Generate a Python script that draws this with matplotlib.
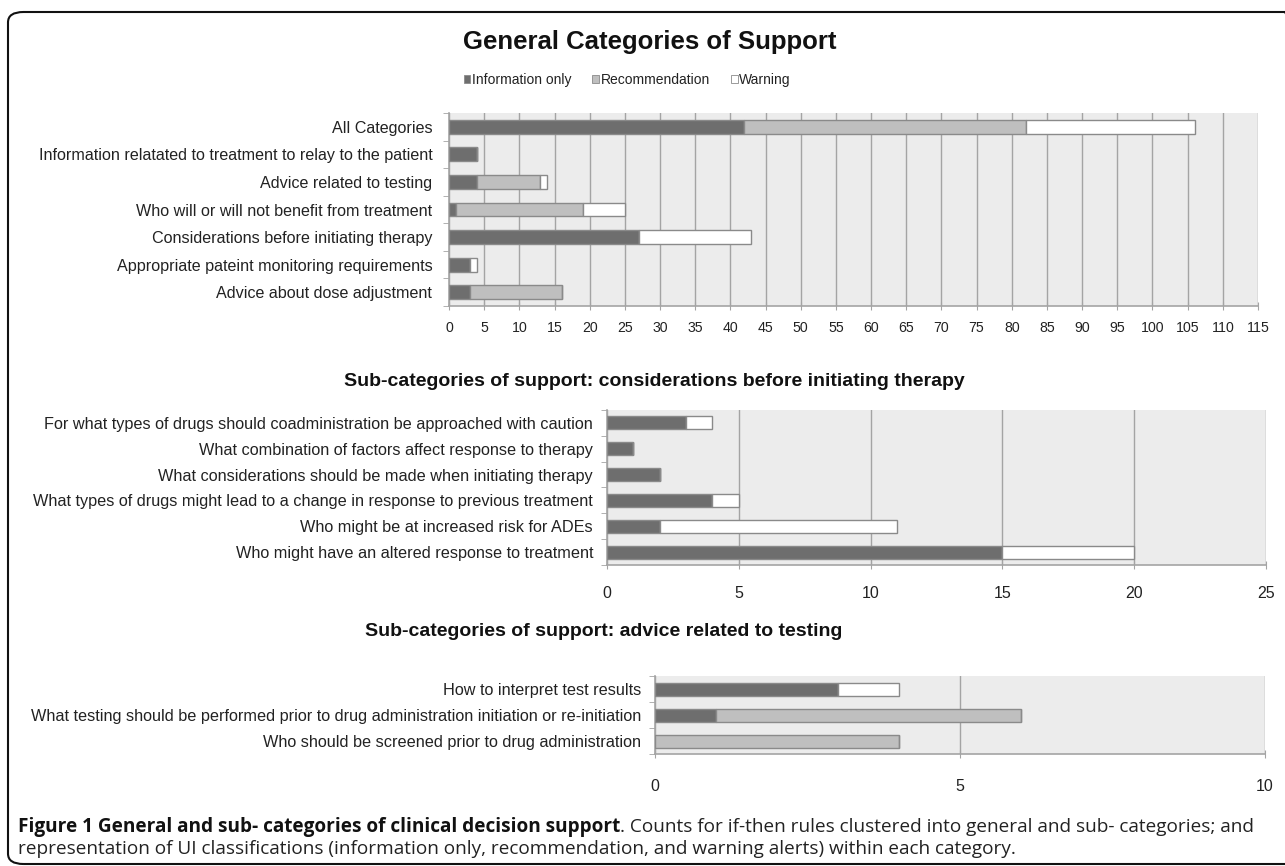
import matplotlib
matplotlib.use("Agg")
import matplotlib.pyplot as plt
from matplotlib.patches import Patch, FancyBboxPatch
import numpy as np

# ---------------- data ----------------
gen_categories = [
    "All Categories",
    "Information relatated to treatment to relay to the patient",
    "Advice related to testing",
    "Who will or will not benefit from treatment",
    "Considerations before initiating therapy",
    "Appropriate pateint monitoring requirements",
    "Advice about dose adjustment",
]
gen_info = [42, 4, 4, 1, 27, 3, 3]
gen_rec = [40, 0, 9, 18, 0, 0, 13]
gen_warn = [24, 0, 1, 6, 16, 1, 0]
gen_ticks = list(range(0, 116, 5))

cons_categories = [
    "For what types of drugs should coadministration be approached with caution",
    "What combination of factors affect response to therapy",
    "What considerations should be made when initiating therapy",
    "What types of drugs might lead to a change in response to previous treatment",
    "Who might be at increased risk for ADEs",
    "Who might have an altered response to treatment",
]
cons_info = [3, 1, 2, 4, 2, 15]
cons_rec = [0, 0, 0, 0, 0, 0]
cons_warn = [1, 0, 0, 1, 9, 5]
cons_ticks = [0, 5, 10, 15, 20, 25]

test_categories = [
    "How to interpret test results",
    "What testing should be performed prior to drug administration initiation or re-initiation",
    "Who should be screened prior to drug administration",
]
test_info = [3, 1, 0]
test_rec = [0, 5, 4]
test_warn = [1, 0, 0]
test_ticks = [0, 5, 10]

series_names = ["Information only", "Recommendation", "Warning"]

# ---------------- style ----------------
W, H = 1285, 866
DPI = 100
C_INFO = "#6e6e6e"
C_REC = "#bfbfbf"
C_WARN = "#ffffff"
EDGE = "#8a8a8a"
BG = "#ececec"
GRID = "#a4a4a4"
FONT = ["Liberation Sans", "DejaVu Sans"]
plt.rcParams["font.family"] = FONT

fig = plt.figure(figsize=(W / DPI, H / DPI), dpi=DPI)


def rect(x0, y0, x1, y1):
    return [x0 / W, 1 - y1 / H, (x1 - x0) / W, (y1 - y0) / H]


def draw(ax, cats, info, rec, warn, ticks, xmax, label_size, tick_size, ypad, xpad):
    n = len(cats)
    y = np.arange(n)
    info = np.array(info, float)
    rec = np.array(rec, float)
    warn = np.array(warn, float)
    h = 0.5
    ax.set_facecolor(BG)
    ax.barh(y, info, height=h, color=C_INFO, edgecolor=EDGE, linewidth=1.0, zorder=3)
    ax.barh(y, rec, left=info, height=h, color=C_REC, edgecolor=EDGE, linewidth=1.0, zorder=3)
    ax.barh(y, warn, left=info + rec, height=h, color=C_WARN, edgecolor=EDGE, linewidth=1.0, zorder=3)
    ax.set_xlim(0, xmax)
    ax.set_ylim(n - 0.5, -0.5)
    ax.set_xticks(ticks)
    ax.set_xticklabels([str(t) for t in ticks], fontsize=tick_size, color="#222222")
    ax.xaxis.grid(True, color=GRID, linewidth=1.0, zorder=1)
    ax.set_axisbelow(True)
    ax.set_yticks(y)
    ax.set_yticklabels(cats, fontsize=label_size, color="#222222")
    ax.set_yticks(np.arange(n + 1) - 0.5, minor=True)
    ax.tick_params(axis="y", which="major", length=0, pad=ypad)
    ax.tick_params(axis="y", which="minor", length=4, color=GRID, direction="out")
    ax.tick_params(axis="x", which="major", length=6, color=GRID, direction="inout", pad=xpad)
    for s in ["top", "right"]:
        ax.spines[s].set_visible(False)
    for s in ["left", "bottom"]:
        ax.spines[s].set_color(GRID)
        ax.spines[s].set_linewidth(1.2)


# General chart
ax1 = fig.add_axes(rect(449, 113, 1258, 306))
draw(ax1, gen_categories, gen_info, gen_rec, gen_warn, gen_ticks, 115, 11.6, 10.2, 12, 8)
fig.text(650 / W, 1 - 42 / H, "General Categories of Support", ha="center", va="center",
         fontsize=18.5, fontweight="bold", color="#111111")

handles = [Patch(facecolor=C_INFO, edgecolor=EDGE, linewidth=0.6),
           Patch(facecolor=C_REC, edgecolor=EDGE, linewidth=0.6),
           Patch(facecolor=C_WARN, edgecolor=EDGE, linewidth=0.6)]
fig.legend(handles, series_names, loc="center", bbox_to_anchor=(627 / W, 1 - 80 / H), ncol=3,
           frameon=False, fontsize=10, handlelength=0.5, handleheight=0.5, handletextpad=0.1,
           columnspacing=1.5, labelcolor="#222222")

# Considerations sub chart
ax2 = fig.add_axes(rect(607, 410, 1266, 565))
draw(ax2, cons_categories, cons_info, cons_rec, cons_warn, cons_ticks, 25, 11.7, 11.5, 10, 12)
fig.text(654 / W, 1 - 382 / H, "Sub-categories of support: considerations before initiating therapy",
         ha="center", va="center", fontsize=14, fontweight="bold", color="#111111")

# Testing sub chart
ax3 = fig.add_axes(rect(655, 676, 1265, 754))
draw(ax3, test_categories, test_info, test_rec, test_warn, test_ticks, 10, 11.7, 11.5, 10, 15)
fig.text(604 / W, 1 - 632 / H, "Sub-categories of support: advice related to testing",
         ha="center", va="center", fontsize=14, fontweight="bold", color="#111111")

# Border box
box = FancyBboxPatch((8 / W, 1 - 864 / H), (1300 - 8) / W, (864 - 12) / H,
                     boxstyle="round,pad=0,rounding_size=0.012", transform=fig.transFigure,
                     facecolor="none", edgecolor="#111111", linewidth=1.5, clip_on=False)
fig.add_artist(box)

# Caption
cap_font = ["Open Sans", "DejaVu Sans"]
CAP = 13.7
t1 = fig.text(18 / W, 1 - 827 / H, "Figure 1 General and sub- categories of clinical decision support",
              ha="left", va="center", fontsize=CAP, fontweight="bold", color="#111111", family=cap_font)
fig.canvas.draw()
bb = t1.get_window_extent()
fig.text(bb.x1 / W, 1 - 827 / H,
         ". Counts for if-then rules clustered into general and sub- categories; and",
         ha="left", va="center", fontsize=CAP, color="#222222", family=cap_font)
fig.text(18 / W, 1 - 849 / H,
         "representation of UI classifications (information only, recommendation, and warning alerts) within each category.",
         ha="left", va="center", fontsize=CAP, color="#222222", family=cap_font)

fig.savefig("out.png", dpi=DPI, facecolor="white")
